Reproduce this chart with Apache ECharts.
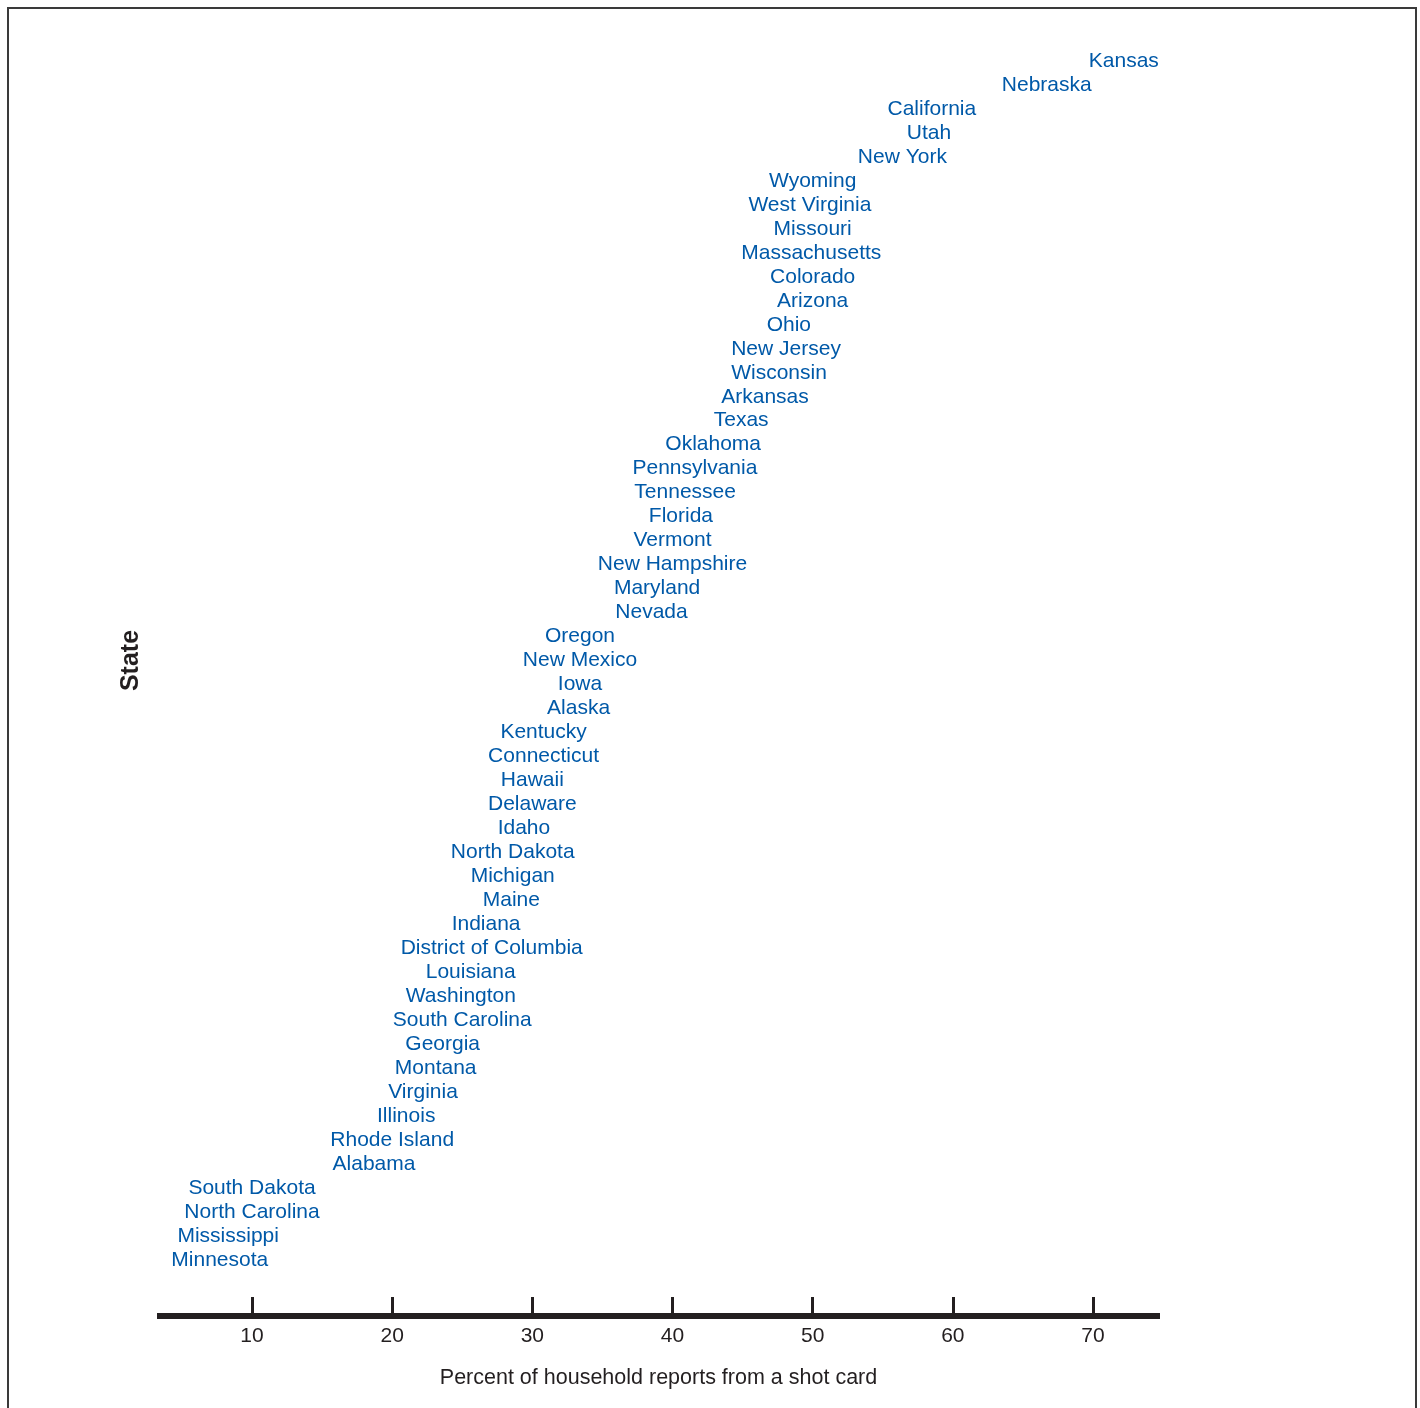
<!DOCTYPE html>
<html>
<head>
<meta charset="utf-8">
<script src="https://cdn.jsdelivr.net/npm/echarts@6/dist/echarts.min.js"></script>
<style>html,body{margin:0;padding:0;background:#fff}#c{width:1420px;height:1408px}</style>
</head>
<body>
<div id="c"></div>
<script>
// States ordered bottom to top
const states = ["Minnesota","Mississippi","North Carolina","South Dakota","Alabama","Rhode Island","Illinois","Virginia","Montana","Georgia","South Carolina","Washington","Louisiana","District of Columbia","Indiana","Maine","Michigan","North Dakota","Idaho","Delaware","Hawaii","Connecticut","Kentucky","Alaska","Iowa","New Mexico","Oregon","Nevada","Maryland","New Hampshire","Vermont","Florida","Tennessee","Pennsylvania","Oklahoma","Texas","Arkansas","Wisconsin","New Jersey","Ohio","Arizona","Colorado","Massachusetts","Missouri","West Virginia","Wyoming","New York","Utah","California","Nebraska","Kansas"];
const percents = [7.7,8.3,10.0,10.0,18.7,20.0,21.0,22.2,23.1,23.6,25.0,24.9,25.6,27.1,26.7,28.5,28.6,28.6,29.4,30.0,30.0,30.8,30.8,33.3,33.4,33.4,33.4,38.5,38.9,40.0,40.0,40.6,40.9,41.6,42.9,44.9,46.6,47.6,48.1,48.3,50.0,50.0,49.9,50.0,49.8,50.0,56.4,58.3,58.5,66.7,72.2];
const xTicks = [10,20,30,40,50,60,70];
const xName = "Percent of household reports from a shot card";
const yName = "State";

const chart = echarts.init(document.getElementById('c'));
const FONT = '"Liberation Sans", Arial, Helvetica, sans-serif';
chart.setOption({
  animation: false,
  backgroundColor: '#fff',
  grid: { left: 157, right: 260, top: 61, bottom: 148 },
  xAxis: {
    type: 'value', min: 3.22, max: 74.78, offset: 56,
    splitLine: { show: false },
    axisLine: { show: true, lineStyle: { color: '#231f20', width: 6, cap: 'butt' } },
    axisTick: { show: true, inside: true, length: 19, customValues: xTicks, lineStyle: { color: '#231f20', width: 3, cap: 'butt' } },
    axisLabel: { customValues: xTicks, margin: 10, color: '#231f20', fontSize: 21, fontFamily: FONT },
    name: xName, nameLocation: 'middle', nameGap: 51,
    nameTextStyle: { color: '#231f20', fontSize: 21.5, fontFamily: FONT }
  },
  yAxis: {
    type: 'category', data: states, boundaryGap: false,
    axisLine: { show: false }, axisTick: { show: false }, axisLabel: { show: false }, splitLine: { show: false },
    name: yName, nameLocation: 'middle', nameGap: 13, nameRotate: 90,
    nameTextStyle: { color: '#231f20', fontSize: 25, fontWeight: 'bold', fontFamily: FONT }
  },
  series: [{
    type: 'scatter',
    symbolSize: 1,
    itemStyle: { color: 'rgba(0,0,0,0)' },
    data: states.map((s, i) => ({ name: s, value: [percents[i], s] })),
    label: {
      show: true, position: 'inside', formatter: p => p.name,
      color: '#0059a8', fontSize: 21, fontFamily: FONT, align: 'center', verticalAlign: 'middle',
      textBorderWidth: 0, textBorderColor: 'transparent', opacity: 1
    },
    emphasis: { disabled: true },
    labelLayout: { hideOverlap: false }
  }],
  graphic: [{
    type: 'rect',
    shape: { x: 8, y: 8, width: 1408, height: 1420 },
    style: { fill: 'none', stroke: '#3a3a3a', lineWidth: 2 }
  }]
});
</script>
</body>
</html>
